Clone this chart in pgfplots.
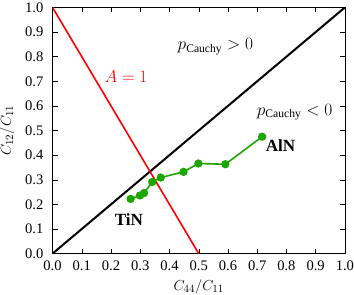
\documentclass[border=0pt]{standalone}
\usepackage{pgfplots}
\pgfplotsset{compat=1.18}
\usepackage{fontspec}
\setmainfont{Liberation Serif}
\definecolor{mygreen}{RGB}{30,165,0}
\begin{document}
\begin{tikzpicture}[x=1pt,y=1pt]
\begin{axis}[
  width=291pt, height=245pt, scale only axis,
  xmin=0, xmax=1, ymin=0, ymax=1,
  xtick={0,0.1,...,1.0}, ytick={0,0.1,...,1.0},
  /pgf/number format/fixed, /pgf/number format/fixed zerofill, /pgf/number format/precision=1,
  /pgf/number format/assume math mode=true,
  tick align=inside, tick style={black, thin},
  major tick length=5pt,
  ticklabel style={font=\fontsize{14.5}{15}\selectfont, inner sep=0pt},
  xticklabel style={yshift=-7pt},
  yticklabel style={xshift=-9pt, inner ysep=2.5pt},
  xlabel={$C_{44}/C_{11}$}, ylabel={$C_{12}/C_{11}$},
  label style={font=\fontsize{15}{16}\selectfont, inner sep=0pt},
  xlabel style={at={(axis description cs:0.5,-0.135)}, anchor=center},
  ylabel style={at={(axis description cs:-0.155,0.5)}, anchor=center},
  axis line style={thin},
  clip=true,
]
\addplot[black, line width=2pt] coordinates {(0,0) (1,1)};
\addplot[red, line width=1.6pt] coordinates {(0,1) (0.5,0)};
\addplot[mygreen, line width=1.6pt, mark=*, mark size=3.3pt, mark options={fill=mygreen, draw=mygreen}] coordinates {
(0.267,0.222) (0.299,0.236) (0.313,0.246) (0.341,0.291) (0.370,0.309) (0.448,0.332) (0.499,0.366) (0.591,0.363) (0.717,0.475)};
\node[red, font=\fontsize{16}{17}\selectfont] at (axis cs:0.251,0.72) {$A=1$};
\node[font=\fontsize{16.5}{17}\selectfont] at (axis cs:0.557,0.84) {$p_{\mathrm{Cauchy}}>0$};
\node[font=\fontsize{16.5}{17}\selectfont] at (axis cs:0.828,0.575) {$p_{\mathrm{Cauchy}}<0$};
\node[font=\bfseries\fontsize{17}{18}\selectfont] at (axis cs:0.78,0.439) {AlN};
\node[font=\bfseries\fontsize{17}{18}\selectfont] at (axis cs:0.261,0.139) {TiN};
\end{axis}
\end{tikzpicture}
\end{document}
